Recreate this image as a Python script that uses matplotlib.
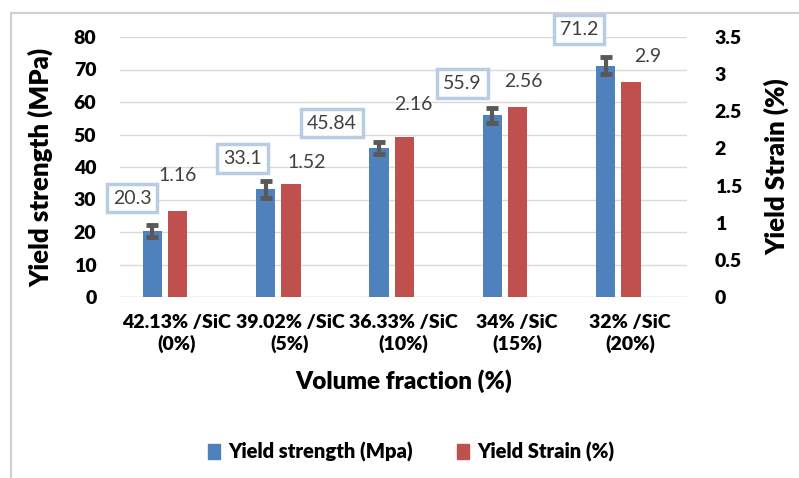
import numpy as np
import matplotlib.pyplot as plt
from matplotlib.patches import Rectangle

plt.rcParams['font.family'] = ['Lato', 'DejaVu Sans']

categories = ['42.13% /SiC\n(0%)', '39.02% /SiC\n(5%)', '36.33% /SiC\n(10%)',
              '34% /SiC\n(15%)', '32% /SiC\n(20%)']
strength = [20.3, 33.1, 45.84, 55.9, 71.2]
strength_err = [1.8, 2.6, 1.8, 2.3, 2.5]
strain = [1.16, 1.52, 2.16, 2.56, 2.9]

blue = '#4f81bd'
red = '#c0504d'
W = 'heavy'

# label offsets in pixels (dx, dy) from bar top, as placed in the original
blue_off = [(-20, 33), (-23, 31), (-47, 25), (-30, 32), (-27, 36)]
red_off = [(0, 35), (16, 22), (9, 32), (6, 25), (17, 25)]

fig = plt.figure(figsize=(7.99, 4.78), dpi=100)
ax = fig.add_axes([120/799, 1-297/478, 567/799, 260/478])
ax2 = ax.twinx()

x = np.arange(len(categories))
w = 0.17
ax.bar(x - 0.216, strength, w, color=blue, zorder=3)
ax.errorbar(x - 0.216, strength, yerr=strength_err, fmt='none', ecolor='#595959',
            elinewidth=3, capsize=4.5, capthick=3.5, zorder=4)
ax2.bar(x + 0.007, strain, w, color=red, zorder=3)

ax.set_xlim(-0.5, len(categories) - 0.5)
ax.set_ylim(0, 80)
ax2.set_ylim(0, 3.5)
ax.set_yticks(np.arange(0, 81, 10))
ax2.set_yticks(np.arange(0, 3.51, 0.5))
ax2.set_yticklabels(['0', '0.5', '1', '1.5', '2', '2.5', '3', '3.5'])
ax.grid(axis='y', color='#d9d9d9', linewidth=1, zorder=0)
ax.set_axisbelow(True)

for a in (ax, ax2):
    for s in a.spines.values():
        s.set_visible(False)
    a.tick_params(length=0, labelsize=14)
    for t in a.get_yticklabels():
        t.set_fontweight(W)

ax.set_xticks(x)
ax.set_xticklabels(categories, fontsize=14, fontweight=W, linespacing=1.25)
ax.tick_params(axis='x', pad=12)
ax.tick_params(axis='y', pad=17)
ax2.tick_params(axis='y', pad=20)

ax.set_xlabel('Volume fraction (%)', fontsize=17.5, fontweight=W, labelpad=12)
ax.set_ylabel('Yield strength (MPa)', fontsize=18.5, fontweight=W)
ax.yaxis.set_label_coords(-0.118, 0.5)
ax2.set_ylabel('Yield Strain (%)', fontsize=18.5, fontweight=W, labelpad=16)

for i, v in enumerate(strength):
    ax.annotate(f'{v:g}', (x[i] - 0.216, v), xytext=blue_off[i], textcoords='offset pixels',
                ha='center', va='center', fontsize=14, color='#404040', zorder=6,
                bbox=dict(boxstyle='square,pad=0.3', fc='white', ec='#b8cce4', lw=2.5))
for i, v in enumerate(strain):
    ax2.annotate(f'{v:g}', (x[i] + 0.007, v), xytext=red_off[i], textcoords='offset pixels',
                 ha='center', va='center', fontsize=14, color='#404040', zorder=6)

ax.axhline(0, color='#d9d9d9', linewidth=1, zorder=2)

# legend
h1 = Rectangle((0, 0), 1, 1, color=blue)
h2 = Rectangle((0, 0), 1, 1, color=red)
fig.legend([h1, h2], ['Yield strength (Mpa)', 'Yield Strain (%)'], loc='center',
           bbox_to_anchor=(411/799, 1-452/478), ncol=2, frameon=False,
           prop={'size': 14.5, 'weight': W}, handlelength=0.6, handleheight=0.75,
           columnspacing=2.2, handletextpad=0.4)

# chart frame
fig.patches.append(Rectangle((11/799, -0.1), 1.2, 1 - 13/478 + 0.1, transform=fig.transFigure,
                             fill=False, ec='#d0d0d0', lw=1.5))

fig.savefig('out.png', dpi=100)
